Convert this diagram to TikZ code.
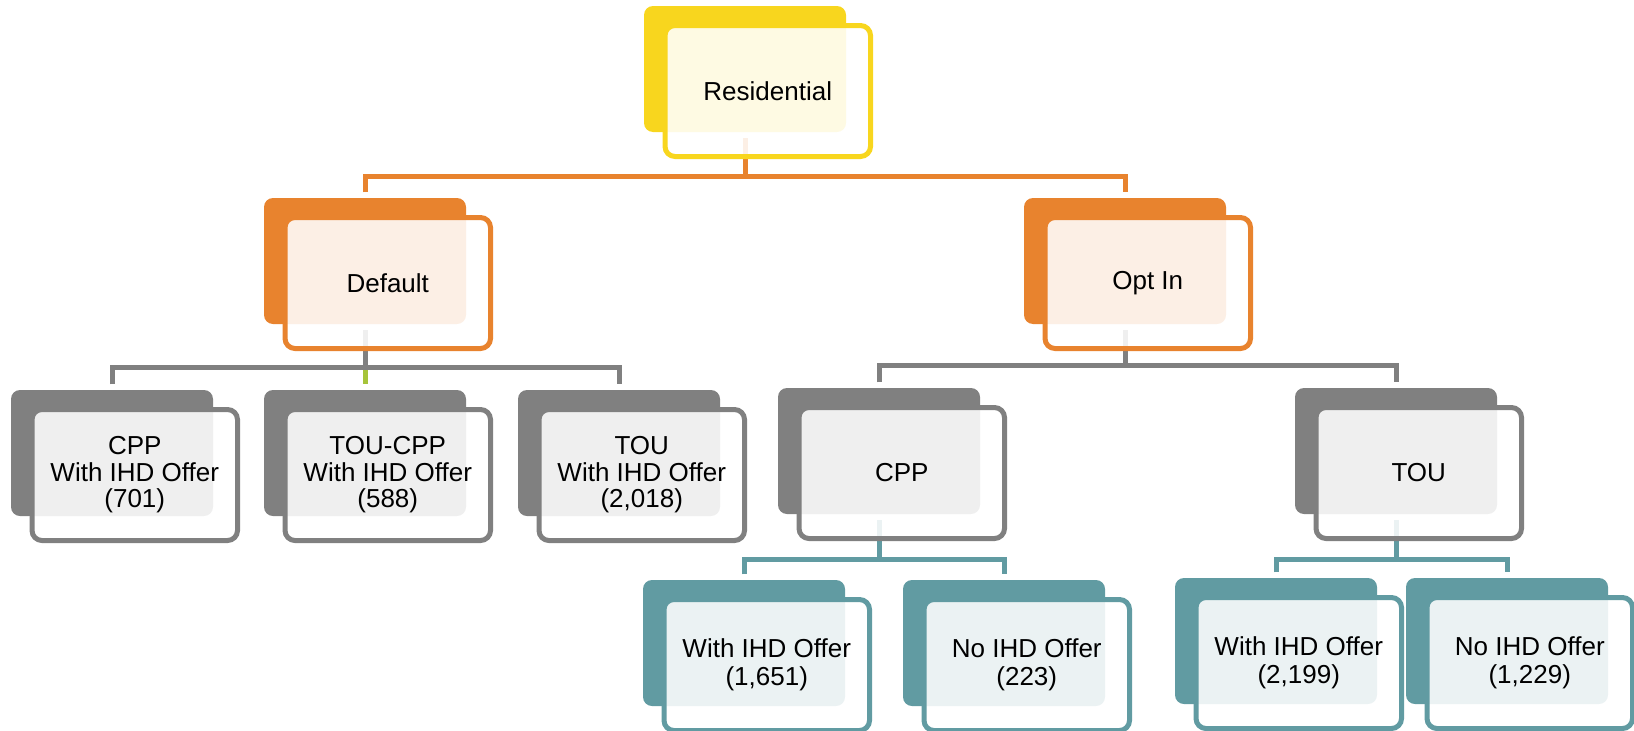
\documentclass[tikz,border=0pt]{standalone}
\usepackage{fontspec}
\setmainfont{Liberation Sans}
\usetikzlibrary{calc}
\pgfdeclarelayer{bg}
\pgfsetlayers{bg,main}
\definecolor{cyel}{HTML}{F8D61E}
\definecolor{cora}{HTML}{E8832E}
\definecolor{cgry}{HTML}{808080}
\definecolor{ctea}{HTML}{619BA2}
\definecolor{cgrn}{HTML}{A6C43A}
\tikzset{
  backbox/.style={draw=none, fill=#1, rounded corners=9pt, minimum width=202pt, minimum height=126pt, inner sep=0pt},
  frontbox/.style={draw=#1, line width=5pt, fill=white, fill opacity=0.88, text opacity=1, draw opacity=1, rounded corners=10pt, minimum width=205.5pt, minimum height=131pt, inner sep=0pt, align=center, text=black},
  conn/.style={draw=#1, line width=5pt, line join=miter}
}
% #1 name, #2 x, #3 y (back centre), #4 colour, #5 baselineskip, #6 text
\newcommand\orgbox[6]{%
  \node[backbox=#4] (#1-b) at (#2,#3) {};
  \node[frontbox=#4, font=\fontsize{26}{#5}\selectfont] (#1) at (#2+22.75,#3+22) {#6};
  \coordinate (#1-o) at ($(#1-b.south)+(0,6)$);
  \coordinate (#1-i) at ($(#1-b.north)+(0,-5.5)$);
}
\begin{document}
\begin{tikzpicture}[x=1pt,y=-1pt]
\useasboundingbox (0,0) rectangle (1634,731);
\orgbox{res}{745}{69}{cyel}{28}{Residential}
\orgbox{def}{365}{261}{cora}{28}{Default}
\orgbox{opt}{1125}{261}{cora}{28}{Opt In}
\orgbox{cppa}{112}{453}{cgry}{26.5}{CPP\\With IHD Offer\\(701)}
\orgbox{toucpp}{365}{453}{cgry}{26.5}{TOU-CPP\\With IHD Offer\\(588)}
\orgbox{toua}{619}{453}{cgry}{26.5}{TOU\\With IHD Offer\\(2,018)}
\orgbox{cppb}{879}{451}{cgry}{28}{CPP}
\orgbox{toub}{1396}{451}{cgry}{28}{TOU}
\orgbox{wa}{744}{643}{ctea}{28}{With IHD Offer\\(1,651)}
\orgbox{na}{1004}{643}{ctea}{28}{No IHD Offer\\(223)}
\orgbox{wb}{1276}{641}{ctea}{28}{With IHD Offer\\(2,199)}
\orgbox{nb}{1507}{641}{ctea}{28}{No IHD Offer\\(1,229)}
\coordinate (bar-res) at (0,176);
\coordinate (bar-def) at (0,367.5);
\coordinate (bar-opt) at (0,365.5);
\coordinate (bar-cpp) at (0,559.5);
\coordinate (bar-tou) at (0,559.5);
\begin{pgfonlayer}{bg}
  \draw[conn=cora] (def-i) -- (def-i |- bar-res) -- (opt-i |- bar-res) -- (opt-i);
  \draw[conn=cora] (res-o) -- (res-o |- bar-res);
  \draw[conn=cgrn] (toucpp-i |- bar-def) -- (toucpp-i);
  \draw[conn=cgry] (cppa-i) -- (cppa-i |- bar-def) -- (toua-i |- bar-def) -- (toua-i);
  \draw[conn=cgry] (def-o) -- (def-o |- bar-def);
  \draw[conn=cgry] (cppb-i) -- (cppb-i |- bar-opt) -- (toub-i |- bar-opt) -- (toub-i);
  \draw[conn=cgry] (opt-o) -- (opt-o |- bar-opt);
  \draw[conn=ctea] (wa-i) -- (wa-i |- bar-cpp) -- (na-i |- bar-cpp) -- (na-i);
  \draw[conn=ctea] (cppb-o) -- (cppb-o |- bar-cpp);
  \draw[conn=ctea] (wb-i) -- (wb-i |- bar-tou) -- (nb-i |- bar-tou) -- (nb-i);
  \draw[conn=ctea] (toub-o) -- (toub-o |- bar-tou);
\end{pgfonlayer}
\end{tikzpicture}
\end{document}
